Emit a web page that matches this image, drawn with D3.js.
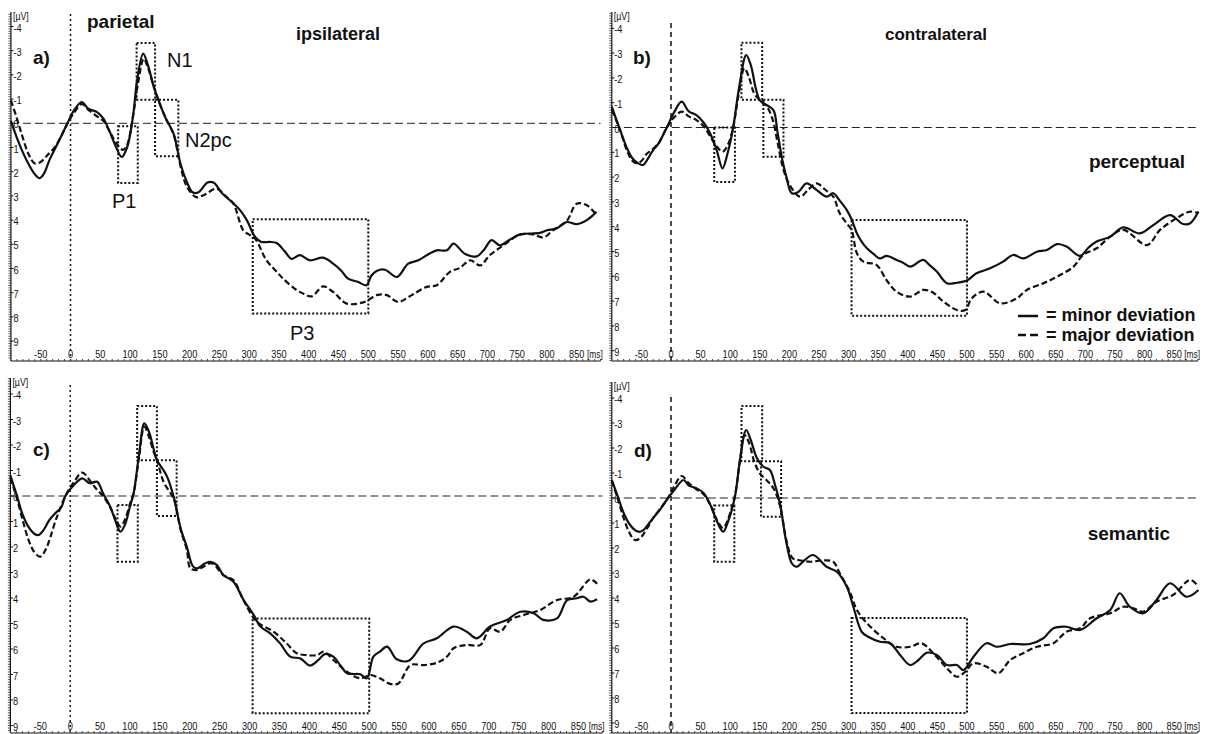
<!DOCTYPE html>
<html>
<head>
<meta charset="utf-8">
<script src="https://cdn.jsdelivr.net/npm/d3@7"></script>
<style>
  html, body { margin: 0; padding: 0; background: #fff; }
  svg { display: block; }
  .tick-label { font-family: "Liberation Sans", Arial, sans-serif; font-size: 11.5px; fill: #111; }
  .bold { font-family: "Liberation Sans", Arial, sans-serif; font-weight: bold; fill: #111; }
  .comp { font-family: "Liberation Sans", Arial, sans-serif; fill: #111; }
</style>
</head>
<body>
<svg id="chart" width="1210" height="734"></svg>
<script>
// ---- axis ticks ----
const msTicks = d3.range(-50, 851, 50);
const msMinorTicks = d3.range(-100, 891, 10);
const uvTicks = d3.range(-4, 10);
const uvMinorTicks = d3.range(-47, 98).map(d => d / 10);

// ---- panel texts ----
const panelLetters = ["a)", "b)", "c)", "d)"];
const sideTitles = ["ipsilateral", "contralateral"];
const rowTitles = ["perceptual", "semantic"];
const legendLabels = ["= minor deviation", "= major deviation"];
const componentNames = ["P1", "N1", "N2pc", "P3"];

// ---- grand-average ERPs, [ms, µV] (negative up) ----
const aMinor = [[-100,-0.1],[-90,0.6],[-80,1.2],[-70,1.7],[-60,2.1],[-52,2.27],[-45,2.1],[-35,1.5],[-25,1.0],[-15,0.5],[-5,0.0],[5,-0.5],[19,-0.88],[30,-0.6],[44,-0.47],[55,-0.2],[65,0.3],[75,0.9],[86,1.39],[95,1.0],[105,-0.3],[112,-1.8],[122,-2.88],[130,-2.4],[140,-1.5],[150,-0.8],[160,-0.2],[173,0.43],[185,1.7],[195,2.4],[205,2.85],[215,2.85],[230,2.45],[240,2.45],[255,2.9],[273,3.3],[285,3.6],[296,4.0],[310,4.7],[320,4.9],[335,4.9],[346,4.95],[360,5.3],[371,5.6],[385,5.45],[402,5.66],[424,5.55],[441,5.8],[455,6.1],[466,6.42],[483,6.56],[497,6.69],[505,6.3],[514,6.1],[528,6.05],[548,6.35],[567,5.8],[584,5.66],[601,5.41],[615,5.25],[632,5.25],[643,4.97],[662,5.39],[682,5.5],[695,5.2],[707,4.83],[721,5.04],[738,4.8],[755,4.59],[788,4.53],[800,4.42],[816,4.35],[833,4.08],[850,4.17],[867,4.0],[883,3.66]];
const aMajor = [[-100,-0.95],[-90,-0.2],[-80,0.6],[-70,1.3],[-60,1.66],[-50,1.6],[-40,1.35],[-26,0.98],[-15,0.5],[-5,0.0],[5,-0.4],[19,-0.8],[30,-0.55],[44,-0.3],[55,-0.1],[65,0.3],[75,0.75],[88,1.1],[95,0.9],[105,-0.3],[113,-1.6],[123,-2.67],[130,-2.3],[140,-1.5],[150,-0.8],[160,-0.2],[173,0.45],[185,1.8],[195,2.6],[211,3.05],[225,2.95],[245,2.7],[260,3.0],[273,3.3],[290,4.42],[300,4.6],[310,4.77],[329,5.66],[345,6.1],[357,6.42],[380,6.9],[392,7.05],[405,7.15],[424,6.74],[441,6.97],[464,7.45],[494,7.38],[514,7.1],[531,7.1],[550,7.38],[573,7.1],[598,6.76],[615,6.69],[637,6.14],[654,5.97],[671,5.66],[688,5.87],[704,5.45],[727,5.04],[755,4.6],[777,4.59],[794,4.72],[810,4.42],[833,4.04],[850,3.32],[867,3.39],[881,3.73]];

const bMinor = [[-100,-0.84],[-86,0.1],[-75,0.8],[-65,1.25],[-55,1.45],[-47,1.51],[-40,1.3],[-30,0.9],[-21,0.64],[-7,0.0],[5,-0.6],[18,-1.04],[30,-0.65],[43,-0.5],[55,-0.2],[66,0.23],[77,0.9],[87,1.65],[96,1.0],[105,0.0],[115,-1.6],[127,-2.92],[135,-2.5],[143,-1.6],[150,-1.1],[162,-0.9],[173,-0.7],[180,0.2],[187,1.18],[195,2.0],[204,2.65],[215,2.6],[229,2.25],[245,2.5],[263,2.79],[274,2.65],[285,2.95],[297,3.33],[305,3.7],[314,4.27],[322,4.6],[331,4.87],[342,5.1],[353,5.28],[364,5.18],[381,5.34],[392,5.45],[404,5.61],[426,5.34],[437,5.55],[449,5.81],[466,6.28],[483,6.26],[500,6.17],[516,5.88],[539,5.68],[561,5.41],[578,5.14],[595,5.28],[618,5.01],[635,4.94],[652,4.7],[668,4.8],[691,5.18],[705,4.85],[719,4.6],[742,4.4],[764,4.03],[792,4.27],[815,3.93],[843,3.53],[865,3.89],[877,3.86],[891,3.39]];
const bMajor = [[-100,-0.7],[-86,0.1],[-75,0.9],[-65,1.35],[-58,1.44],[-50,1.35],[-41,1.06],[-30,0.85],[-21,0.64],[-7,0.0],[5,-0.4],[18,-0.64],[30,-0.45],[43,-0.3],[55,-0.05],[66,0.35],[77,0.75],[87,0.98],[96,0.7],[105,0.0],[114,-1.3],[124,-2.39],[132,-2.0],[140,-1.4],[150,-1.1],[162,-0.84],[172,-0.3],[180,0.6],[190,1.7],[200,2.3],[218,2.79],[232,2.5],[246,2.25],[260,2.5],[274,2.79],[285,3.46],[297,3.87],[305,4.13],[314,5.07],[325,5.41],[347,5.54],[364,6.15],[381,6.62],[404,6.82],[426,6.55],[443,6.66],[460,7.02],[483,7.36],[497,7.36],[508,6.89],[528,6.62],[556,7.09],[584,6.89],[601,6.55],[629,6.28],[652,6.02],[680,5.61],[696,5.14],[719,4.87],[742,4.4],[764,4.13],[804,4.74],[826,4.13],[854,3.66],[877,3.39],[891,3.46]];

const cMinor = [[-100,-0.8],[-89,0.0],[-80,0.7],[-70,1.2],[-60,1.48],[-53,1.53],[-45,1.35],[-35,0.95],[-25,0.68],[-15,0.45],[-8,0.0],[5,-0.4],[20,-0.69],[33,-0.5],[45,-0.56],[55,-0.1],[67,0.42],[76,1.0],[84,1.4],[92,1.1],[100,0.4],[106,-0.1],[115,-1.6],[124,-2.85],[132,-2.5],[140,-1.8],[145,-1.41],[155,-1.05],[162,-0.76],[173,0.03],[185,1.3],[195,1.99],[205,2.75],[212,2.84],[225,2.65],[234,2.58],[245,2.7],[256,3.1],[273,3.36],[290,4.08],[307,4.67],[318,5.12],[334,5.38],[351,5.78],[368,6.3],[385,6.37],[401,6.65],[415,6.43],[426,6.2],[440,6.3],[452,6.65],[463,6.95],[474,6.98],[485,6.99],[496,7.15],[507,6.3],[518,6.1],[530,5.91],[546,6.4],[566,6.46],[591,5.78],[613,5.58],[641,5.12],[663,5.32],[680,5.58],[702,5.12],[730,4.86],[753,4.54],[775,4.6],[791,4.86],[814,4.8],[831,4.08],[847,4.01],[858,3.95],[870,4.14],[881,4.05]];
const cMajor = [[-100,-0.7],[-89,0.1],[-80,0.9],[-70,1.7],[-60,2.2],[-50,2.38],[-40,2.05],[-33,1.6],[-25,1.0],[-20,0.68],[-8,0.0],[5,-0.5],[20,-0.92],[33,-0.6],[45,-0.24],[55,0.0],[67,0.45],[76,0.9],[84,1.2],[92,0.9],[100,0.3],[106,-0.1],[115,-1.5],[124,-2.72],[132,-2.3],[140,-1.7],[145,-1.41],[156,-0.56],[165,-0.2],[173,0.1],[185,1.35],[195,2.1],[201,2.84],[212,2.9],[223,2.77],[237,2.64],[256,3.1],[273,3.3],[290,4.1],[312,4.93],[340,5.32],[362,5.78],[379,6.17],[396,6.24],[413,6.24],[424,6.1],[440,6.43],[463,6.89],[485,7.15],[502,7.02],[518,7.15],[535,7.37],[549,7.35],[569,6.63],[591,6.63],[613,6.54],[630,6.3],[641,5.97],[663,5.84],[686,5.84],[702,5.19],[719,5.32],[736,4.86],[758,4.67],[786,4.47],[814,4.08],[842,3.95],[870,3.27],[883,3.49]];

const dMinor = [[-100,-0.72],[-89,0.0],[-80,0.6],[-70,1.05],[-60,1.3],[-52,1.35],[-45,1.25],[-35,0.95],[-25,0.65],[-19,0.48],[-5,0.0],[5,-0.3],[21,-0.72],[30,-0.5],[43,-0.39],[55,-0.2],[67,0.3],[77,0.9],[88,1.35],[97,0.9],[108,-0.05],[117,-1.6],[127,-2.72],[135,-2.3],[145,-1.6],[156,-1.25],[167,-1.12],[176,-0.5],[184,0.21],[195,1.8],[204,2.61],[212,2.75],[225,2.5],[240,2.28],[263,2.75],[280,2.95],[297,3.55],[308,4.35],[322,5.35],[333,5.55],[353,5.75],[370,5.81],[387,6.28],[404,6.68],[418,6.48],[432,6.19],[449,6.28],[466,6.68],[483,6.68],[494,6.88],[511,6.35],[533,5.81],[550,5.95],[573,5.84],[606,5.84],[629,5.61],[646,5.21],[668,5.15],[691,5.28],[719,4.81],[742,4.48],[758,3.81],[775,4.35],[798,4.61],[820,4.08],[843,3.41],[871,3.95],[891,3.68]];
const dMajor = [[-100,-0.7],[-89,0.1],[-80,0.8],[-70,1.4],[-61,1.68],[-52,1.6],[-40,1.2],[-30,0.8],[-19,0.45],[-5,0.0],[5,-0.45],[18,-0.88],[30,-0.6],[43,-0.35],[55,-0.15],[67,0.3],[77,0.85],[88,1.2],[97,0.8],[108,-0.1],[116,-1.4],[124,-2.52],[132,-2.2],[140,-1.5],[150,-0.99],[162,-0.7],[173,-0.39],[184,0.3],[195,1.7],[205,2.4],[215,2.48],[235,2.55],[255,2.5],[274,2.55],[285,3.01],[302,3.75],[314,4.48],[331,5.01],[359,5.61],[381,5.95],[404,5.95],[423,5.81],[443,6.21],[466,6.81],[483,7.15],[497,6.95],[511,6.61],[533,6.75],[553,7.01],[573,6.48],[595,6.21],[618,5.95],[646,5.81],[668,5.35],[691,5.21],[708,4.81],[742,4.61],[764,4.35],[781,4.41],[798,4.55],[820,4.15],[848,3.88],[877,3.28],[891,3.55]];

// ---- measurement windows: [start ms, end ms, top µV, bottom µV] for P1, N1, N2pc, P3 ----
const windowsA = [[80,113,0.12,2.47],[111,142,-3.32,-0.97],[142,181,-0.97,1.36],[306,500,3.96,7.86]];
const windowsB = [[73,108,0.0,2.2],[119,154,-3.42,-1.12],[156,190,-1.12,1.18],[305,500,3.73,7.59]];
const windowsC = [[79,113,0.35,2.58],[112,145,-3.53,-1.4],[145,178,-1.4,0.78],[305,500,4.8,8.52]];
const windowsD = [[73,107,0.3,2.55],[119,154,-3.68,-1.47],[152,186,-1.47,0.75],[305,500,4.8,8.6]];

// ---- panel geometry (pixels) ----
const panels = [
  { x0: 70.5, kx: 0.5956, y0: 123.3, ky: 24.2, top: 12,  axisY: 361, zeroTop: 14,  zeroDash: "2,3", minor: aMinor, major: aMajor, windows: windowsA, letter: [33, 64] },
  { x0: 671,  kx: 0.592,  y0: 127.5, ky: 24.8, top: 12,  axisY: 361, zeroTop: 23,  zeroDash: "5,4", minor: bMinor, major: bMajor, windows: windowsB, letter: [633, 64] },
  { x0: 70.2, kx: 0.598,  y0: 496,   ky: 25.5, top: 378, axisY: 733, zeroTop: 385, zeroDash: "2,3", minor: cMinor, major: cMajor, windows: windowsC, letter: [33, 456] },
  { x0: 671,  kx: 0.592,  y0: 498,   ky: 25,   top: 382, axisY: 733, zeroTop: 397, zeroDash: "5,4", minor: dMinor, major: dMajor, windows: windowsD, letter: [634, 457] }
];

const svg = d3.select("#chart");
// condensed tick lettering
const squeeze = (px, py) => `translate(${px},${py}) scale(0.8,1)`;

panels.forEach((p, i) => {
  const g = svg.append("g");
  const x = d3.scaleLinear().domain([-100, 890]).range([p.x0 - 100 * p.kx, p.x0 + 890 * p.kx]);
  const y = d3.scaleLinear()
    .domain([(p.top - p.y0) / p.ky, (p.axisY - p.y0) / p.ky])
    .range([p.top, p.axisY]);
  const left = x(-100), right = x(890);

  // zero µV reference line
  g.append("line")
    .attr("x1", left).attr("x2", right)
    .attr("y1", y(0)).attr("y2", y(0))
    .attr("stroke", "#222").attr("stroke-width", 1)
    .attr("stroke-dasharray", "8,4");

  // stimulus onset line
  g.append("line")
    .attr("x1", x(0)).attr("x2", x(0))
    .attr("y1", p.zeroTop).attr("y2", p.axisY)
    .attr("stroke", "#111").attr("stroke-width", 1.5)
    .attr("stroke-dasharray", p.zeroDash);

  // y axis with ruler ticks
  g.append("line")
    .attr("x1", left).attr("x2", left)
    .attr("y1", p.top).attr("y2", p.axisY)
    .attr("stroke", "#111").attr("stroke-width", 1.2);
  g.selectAll(".uvminor").data(uvMinorTicks.filter(v => y(v) >= p.top && y(v) <= p.axisY)).enter()
    .append("line")
    .attr("x1", left - 2.5).attr("x2", left)
    .attr("y1", d => y(d)).attr("y2", d => y(d))
    .attr("stroke", "#333").attr("stroke-width", 0.8);
  g.selectAll(".uvmajor").data(uvTicks).enter()
    .append("line")
    .attr("x1", left).attr("x2", left + 2.5)
    .attr("y1", d => y(d)).attr("y2", d => y(d))
    .attr("stroke", "#111").attr("stroke-width", 1);
  g.selectAll(".uvlabel").data(uvTicks).enter()
    .append("text")
    .attr("class", "tick-label")
    .attr("transform", d => squeeze(left + 2.5, y(d) + 5))
    .text(d => d);
  g.append("text")
    .attr("class", "tick-label")
    .attr("transform", squeeze(left + 2, p.top + 8))
    .style("font-size", "11px")
    .text("[µV]");

  // x axis
  g.append("line")
    .attr("x1", left).attr("x2", right)
    .attr("y1", p.axisY).attr("y2", p.axisY)
    .attr("stroke", "#111").attr("stroke-width", 1.2);
  g.selectAll(".msminor").data(msMinorTicks).enter()
    .append("line")
    .attr("x1", d => x(d)).attr("x2", d => x(d))
    .attr("y1", p.axisY - 2).attr("y2", p.axisY)
    .attr("stroke", "#444").attr("stroke-width", 1);
  g.selectAll(".mslabel").data(msTicks).enter()
    .append("text")
    .attr("class", "tick-label")
    .attr("text-anchor", "middle")
    .attr("transform", d => squeeze(x(d), p.axisY - 3))
    .text(d => d);
  g.append("text")
    .attr("class", "tick-label")
    .attr("transform", squeeze(x(867), p.axisY - 3))
    .style("font-size", "10.5px")
    .text("[ms]");

  // measurement windows
  g.selectAll(".win").data(p.windows).enter()
    .append("rect")
    .attr("x", d => x(d[0]))
    .attr("y", d => y(d[2]))
    .attr("width", d => x(d[1]) - x(d[0]))
    .attr("height", d => y(d[3]) - y(d[2]))
    .attr("fill", "none")
    .attr("stroke", "#111").attr("stroke-width", 2)
    .attr("stroke-dasharray", "2,2");

  // waveforms
  const line = d3.line()
    .x(d => x(d[0]))
    .y(d => y(d[1]))
    .curve(d3.curveCatmullRom.alpha(0.5));
  g.append("path")
    .datum(p.major)
    .attr("d", line)
    .attr("fill", "none")
    .attr("stroke", "#111").attr("stroke-width", 2.2)
    .attr("stroke-dasharray", "6,3");
  g.append("path")
    .datum(p.minor)
    .attr("d", line)
    .attr("fill", "none")
    .attr("stroke", "#111").attr("stroke-width", 2.2);

  // panel letter
  g.append("text")
    .attr("class", "bold")
    .attr("x", p.letter[0]).attr("y", p.letter[1])
    .style("font-size", "19px")
    .text(panelLetters[i]);
});

// headings
svg.append("text").attr("class", "bold").attr("x", 87).attr("y", 28)
  .style("font-size", "19px").text("parietal");
svg.append("text").attr("class", "bold").attr("x", 338).attr("y", 40)
  .attr("text-anchor", "middle").style("font-size", "18px").text(sideTitles[0]);
svg.append("text").attr("class", "bold").attr("x", 936).attr("y", 40)
  .attr("text-anchor", "middle").style("font-size", "17px").text(sideTitles[1]);
svg.append("text").attr("class", "bold").attr("x", 1185).attr("y", 168)
  .attr("text-anchor", "end").style("font-size", "19px").text(rowTitles[0]);
svg.append("text").attr("class", "bold").attr("x", 1170).attr("y", 540)
  .attr("text-anchor", "end").style("font-size", "19px").text(rowTitles[1]);

// component names in panel a
const compPos = [[112, 208], [167, 67], [185, 147], [290, 340]];
componentNames.forEach((name, k) => {
  svg.append("text").attr("class", "comp")
    .attr("x", compPos[k][0]).attr("y", compPos[k][1])
    .style("font-size", "20px").text(name);
});

// legend in panel b
svg.append("line").attr("x1", 1018).attr("x2", 1038).attr("y1", 316).attr("y2", 316)
  .attr("stroke", "#111").attr("stroke-width", 2.5);
svg.append("line").attr("x1", 1018).attr("x2", 1038).attr("y1", 335).attr("y2", 335)
  .attr("stroke", "#111").attr("stroke-width", 2.5).attr("stroke-dasharray", "8,4");
svg.append("text").attr("class", "bold").attr("x", 1046).attr("y", 321)
  .style("font-size", "18px").text(legendLabels[0]);
svg.append("text").attr("class", "bold").attr("x", 1046).attr("y", 341)
  .style("font-size", "18px").text(legendLabels[1]);
</script>
</body>
</html>
